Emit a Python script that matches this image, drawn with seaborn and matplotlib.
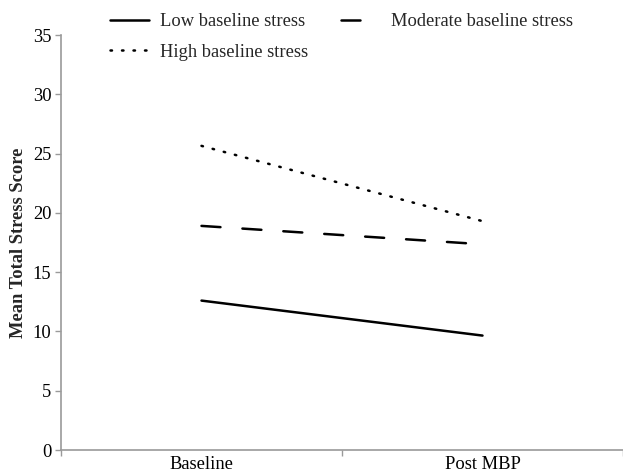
import matplotlib
matplotlib.use("Agg")
import matplotlib.pyplot as plt
import seaborn as sns
import pandas as pd

# Data
timepoints = ["Baseline", "Post MBP"]
groups = ["Low baseline stress", "Moderate baseline stress", "High baseline stress"]
low_vals = [12.6, 9.65]
moderate_vals = [18.9, 17.35]
high_vals = [25.65, 19.3]

df = pd.DataFrame({
    "time": timepoints * 3,
    "group": [groups[0]] * 2 + [groups[1]] * 2 + [groups[2]] * 2,
    "score": low_vals + moderate_vals + high_vals,
})

sns.set_theme(style="white")
plt.rcParams["font.family"] = ["Liberation Serif", "DejaVu Serif"]

fig = plt.figure(figsize=(6.23, 4.73), dpi=100)
ax = fig.add_axes([61 / 623, 1 - 450 / 473, 1 - 61 / 623, (450 - 35) / 473])

dashes = {groups[0]: "", groups[1]: (7.6, 8.8), groups[2]: (0.6, 4.0)}
sns.lineplot(data=df, x="time", y="score", hue="group", style="group",
             hue_order=groups, style_order=groups,
             palette=["black"] * 3, dashes=dashes, linewidth=1.8,
             sort=False, ax=ax, legend=True)
for ln in ax.get_lines():
    ln.set_dash_capstyle("round")

ax.set_xlim(-0.5, 1.5)
ax.set_ylim(0, 35)
ax.set_yticks(range(0, 36, 5))
ax.set_xticks([-0.5, 0.5, 1.5])
ax.set_xticklabels([])
ax.set_xticks([0, 1], minor=True)
ax.set_xticklabels(timepoints, minor=True)
ax.tick_params(axis="x", which="minor", length=0, pad=4, labelsize=13.3, colors="black")
ax.tick_params(axis="x", which="major", length=4, width=1, color="#9a9a9a", direction="out", bottom=True)
ax.tick_params(axis="y", length=4, width=1, color="#9a9a9a", direction="out", left=True, labelsize=13.3, labelcolor="black", pad=3)

for s in ["top", "right"]:
    ax.spines[s].set_visible(False)
for s in ["left", "bottom"]:
    ax.spines[s].set_color("#9a9a9a")
    ax.spines[s].set_linewidth(1.2)

ax.set_xlabel("")
ax.set_ylabel("Mean Total Stress Score", fontsize=13.3, fontweight="bold", labelpad=4)

handles, labels = ax.get_legend_handles_labels()
ax.get_legend().remove()
order = [0, 2, 1]
leg = fig.legend([handles[i] for i in order], [labels[i] for i in order],
                 loc="upper left", ncol=2,
                 bbox_to_anchor=(110 / 623, 1 - 13 / 473), frameon=False,
                 fontsize=13.3, handlelength=2.1, handletextpad=0.6,
                 columnspacing=1.8, labelspacing=0.75, borderpad=0, borderaxespad=0)

fig.savefig("out.png", dpi=100)
